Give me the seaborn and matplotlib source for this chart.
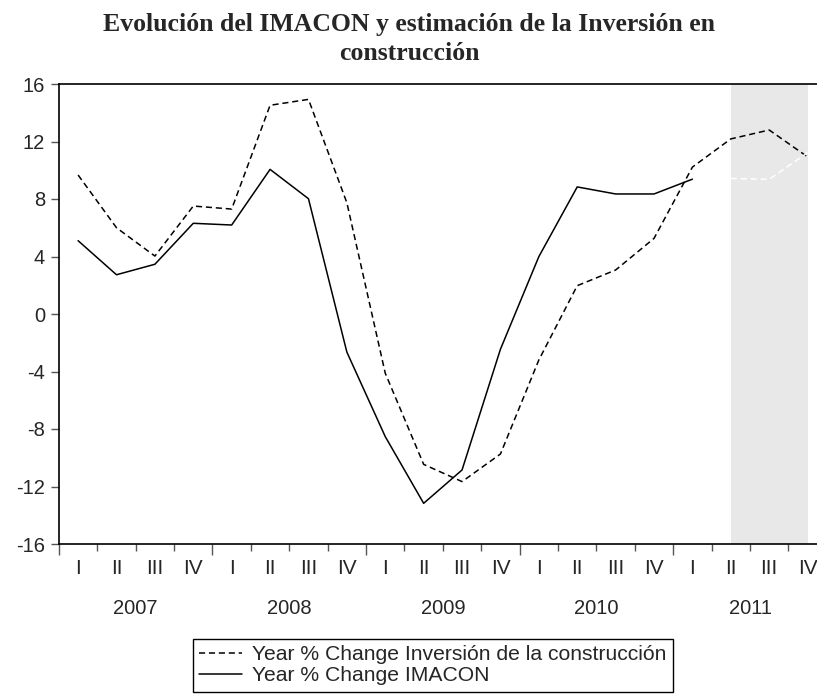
import pandas as pd
import matplotlib
matplotlib.use("Agg")
import matplotlib.pyplot as plt
import matplotlib.transforms as mtransforms
from matplotlib.lines import Line2D
import seaborn as sns

# data (quarterly, 2007 I - 2011 IV)
years = ["2007", "2008", "2009", "2010", "2011"]
quarters = ["I", "II", "III", "IV"]
inversion = [9.67, 6.0, 4.03, 7.51, 7.30, 14.52, 14.93, 7.74,
             -4.12, -10.46, -11.66, -9.74, -3.2, 1.97, 3.06, 5.26,
             10.22, 12.18, 12.8, 10.93]
imacon = [5.1, 2.73, 3.46, 6.31, 6.19, 10.06, 8.02, -2.65,
          -8.53, -13.17, -10.85, -2.45, 3.99, 8.84, 8.35, 8.35,
          9.38]
alt_forecast = [9.43, 9.37, 11.22]  # white dashed, 2011 II-IV
shade_from, shade_to = 17, 19  # 2011 II .. 2011 IV

n = len(years) * len(quarters)
df_inv = pd.DataFrame({"t": range(n), "v": inversion})
df_ima = pd.DataFrame({"t": range(len(imacon)), "v": imacon})
df_alt = pd.DataFrame({"t": range(n - len(alt_forecast), n), "v": alt_forecast})

sns.set_style("ticks")
plt.rcParams["font.family"] = ["Liberation Sans", "DejaVu Sans"]
plt.rcParams["axes.unicode_minus"] = False

fig = plt.figure(figsize=(8.17, 6.94), dpi=100)
ax = fig.add_axes([58.9 / 817, 150 / 694, 767.9 / 817, 460 / 694])

ax.axvspan(shade_from, shade_to, color="#e8e8e8", lw=0, zorder=0)

sns.lineplot(data=df_inv, x="t", y="v", ax=ax, color="black", lw=1.1,
             linestyle=(0, (4, 2.5)))
sns.lineplot(data=df_ima, x="t", y="v", ax=ax, color="black", lw=1.1)
sns.lineplot(data=df_alt, x="t", y="v", ax=ax, color="white", lw=1.1,
             linestyle=(0, (4, 2.5)))

ax.set_xlim(-0.5, n - 0.5)
ax.set_ylim(-16, 16)
ax.set_yticks(range(-16, 17, 4))
ax.set_xlabel("")
ax.set_ylabel("")

for s in ["left", "top", "bottom", "right"]:
    ax.spines[s].set_color("black")
    ax.spines[s].set_linewidth(1.2)

ax.tick_params(axis="y", direction="out", length=6, width=1, color="#555555",
               labelsize=14.5, pad=4)
# quarter boundaries: long ticks at year starts, short ones between
ax.set_xticks([i - 0.5 for i in range(0, n, 4)])
ax.set_xticks([i - 0.5 for i in range(n) if i % 4], minor=True)
ax.tick_params(axis="x", which="major", direction="out", length=8, width=1,
               color="#555555", labelbottom=False)
ax.tick_params(axis="x", which="minor", direction="out", length=5, width=1,
               color="#555555")

trans = mtransforms.blended_transform_factory(ax.transData, ax.transAxes)
for i in range(n):
    ax.text(i, -25 / 460, quarters[i % 4], transform=trans, ha="center",
            va="center", fontsize=15)
for k, yr in enumerate(years):
    ax.text(k * 4 + 1.5, -64 / 460, yr, transform=trans, ha="center",
            va="center", fontsize=14.5)

fig.text(409 / 817, 1 - 39 / 694,
         "Evolución del IMACON y estimación de la Inversión en\nconstrucción",
         ha="center", va="center", fontsize=18.5, fontweight="bold",
         family=["Liberation Serif", "DejaVu Serif"], linespacing=1.3)

handles = [Line2D([], [], color="black", lw=1.1, linestyle=(0, (4, 2.5))),
           Line2D([], [], color="black", lw=1.1)]
labels = ["Year % Change Inversión de la construcción",
          "Year % Change IMACON"]
leg = fig.legend(handles, labels, loc="upper left",
                 bbox_to_anchor=(193 / 817, 1 - 639 / 694), fontsize=15.2,
                 frameon=True, fancybox=False, framealpha=1, borderpad=0.3,
                 labelspacing=0.1, handlelength=2.0, handletextpad=0.5,
                 borderaxespad=0)
leg.get_frame().set_edgecolor("black")
leg.get_frame().set_linewidth(1.0)

fig.savefig("out.png", dpi=100)
